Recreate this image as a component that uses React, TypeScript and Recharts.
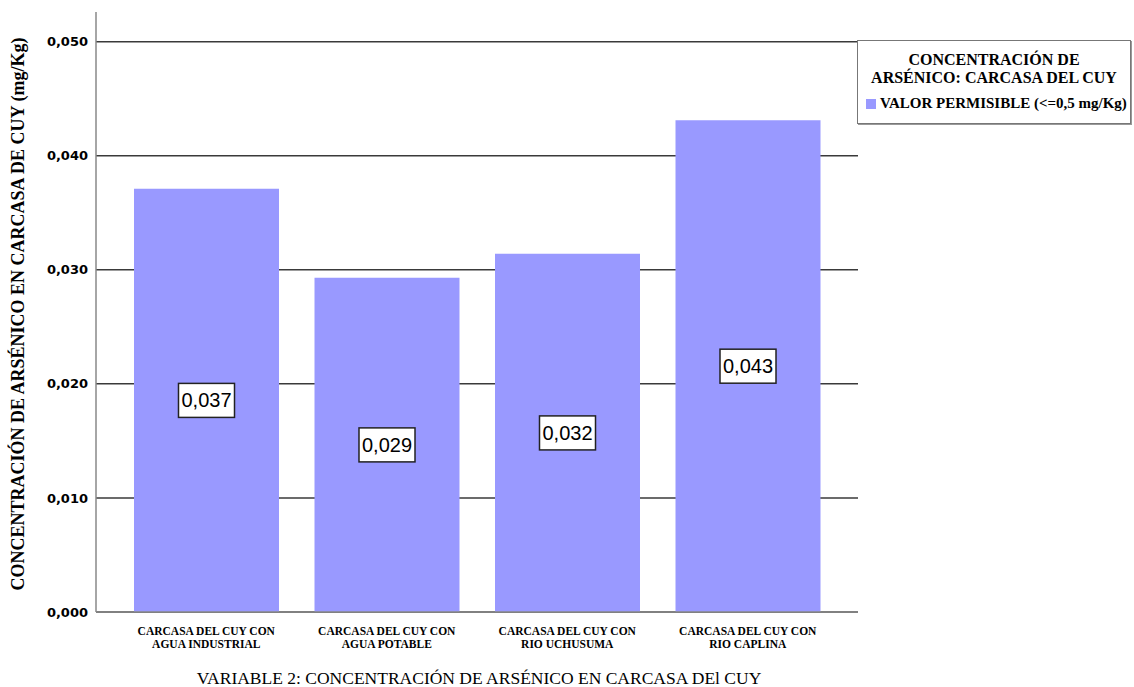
import { BarChart, Bar, XAxis, YAxis, CartesianGrid, Legend, LabelList, Label } from 'recharts'

const categories = [
  'CARCASA DEL CUY CON\nAGUA INDUSTRIAL',
  'CARCASA DEL CUY CON\nAGUA POTABLE',
  'CARCASA DEL CUY CON\nRIO UCHUSUMA',
  'CARCASA DEL CUY CON\nRIO CAPLINA',
]
const values = [0.0371, 0.0293, 0.0314, 0.0431]
const valueLabels = ['0,037', '0,029', '0,032', '0,043']
const yTicks = [0, 0.01, 0.02, 0.03, 0.04, 0.05]
const yMax = 0.0526

const seriesName = 'VALOR PERMISIBLE (<=0,5 mg/Kg)'
const legendTitle = ['CONCENTRACIÓN DE', 'ARSÉNICO: CARCASA DEL CUY']
const yTitle = 'CONCENTRACIÓN DE ARSÉNICO EN CARCASA DE CUY (mg/Kg)'
const xTitle = 'VARIABLE 2: CONCENTRACIÓN DE ARSÉNICO EN CARCASA DEl CUY'

const data = categories.map((name, i) => ({ name, value: values[i], label: valueLabels[i] }))

const serif = '"Liberation Serif", "Times New Roman", serif'
const barColor = '#9999ff'

function CategoryTick(props: any) {
  const { x, y, payload } = props
  const lines = String(payload.value).split('\n')
  return (
    <text x={x} y={y} textAnchor="middle" fontFamily={serif} fontWeight="bold" fontSize={11.5} fill="#000">
      {lines.map((l, i) => (
        <tspan key={i} x={x} dy={i === 0 ? 15 : 12.5}>{l}</tspan>
      ))}
    </text>
  )
}

function ValueBox(props: any) {
  const { x, y, width, height, value } = props
  const cx = x + width / 2
  const cy = y + height / 2
  return (
    <g>
      <rect x={cx - 28} y={cy - 17} width={56} height={34} fill="#fff" stroke="#222" strokeWidth={1.5} />
      <text x={cx} y={cy + 7} textAnchor="middle" fontFamily='"Liberation Sans", Arial, sans-serif' fontSize={20} fill="#000">
        {value}
      </text>
    </g>
  )
}

function LegendBox(props: any) {
  const item = props.payload && props.payload[0]
  return (
    <div style={{ border: '1px solid #777', boxShadow: '1px 1px 0 #999', background: '#fff', height: 84, boxSizing: 'border-box', fontFamily: serif, fontWeight: 'bold', color: '#000' }}>
      <div style={{ textAlign: 'center', fontSize: 16, lineHeight: '18px', paddingTop: 10 }}>
        {legendTitle.map((t) => <div key={t}>{t}</div>)}
      </div>
      <div style={{ display: 'flex', alignItems: 'center', marginTop: 8, paddingLeft: 8, fontSize: 15, whiteSpace: 'nowrap' }}>
        <span style={{ display: 'inline-block', width: 10, height: 10, background: item ? item.color : barColor, marginRight: 4 }} />
        {item ? item.value : seriesName}
      </div>
    </div>
  )
}

// grid lines only at the listed ticks (no line at the top of the domain)
const gridLines = (p: any) => {
  const s = p.yAxis && p.yAxis.scale
  if (typeof s === 'function') return yTicks.map((v) => s(v))
  if (s && typeof s.map === 'function') return yTicks.map((v) => s.map(v))
  const o = p.offset
  return yTicks.map((v) => o.top + o.height * (1 - v / yMax))
}

export default function App() {
  return (
    <div style={{ position: 'absolute', left: 0, top: 0, background: '#fff' }}>
      <BarChart width={1134} height={687} data={data} margin={{ top: 12, right: 276, bottom: 0, left: 0 }}>
        <CartesianGrid vertical={false} horizontalCoordinatesGenerator={gridLines} stroke="#3a3a3a" strokeWidth={1.5} />
        <XAxis
          dataKey="name"
          height={75}
          interval={0}
          padding={{ left: 20, right: 20 }}
          tickLine={false}
          axisLine={{ stroke: '#888', strokeWidth: 1.5 }}
          tick={<CategoryTick />}
        >
          <Label
            content={(p: any) => {
              const vb = p.viewBox
              return (
                <text x={vb.x + vb.width / 2 + 2} y={684} textAnchor="middle" fontFamily={serif} fontSize={17.5} fill="#000">
                  {xTitle}
                </text>
              )
            }}
          />
        </XAxis>
        <YAxis
          width={96}
          domain={[0, yMax]}
          ticks={yTicks}
          tickSize={0}
          tickMargin={8}
          axisLine={{ stroke: '#888', strokeWidth: 1.5 }}
          tickFormatter={(v: number) => v.toFixed(3).replace('.', ',')}
          tick={{ fontFamily: '"DejaVu Sans", sans-serif', fontWeight: 'bold', fontSize: 13, fill: '#000' }}
        >
          <Label
            content={(p: any) => {
              const vb = p.viewBox
              const cy = vb.y + vb.height / 2 + 2
              return (
                <text x={24} y={cy} transform={`rotate(-90 24 ${cy})`} textAnchor="middle" fontFamily={serif} fontWeight="bold" fontSize={18} fill="#000">
                  {yTitle}
                </text>
              )
            }}
          />
        </YAxis>
        <Legend
          layout="vertical"
          align="center"
          verticalAlign="middle"
          wrapperStyle={{ left: 857, top: 40, width: 274, height: 84 }}
          content={<LegendBox />}
        />
        <Bar dataKey="value" name={seriesName} fill={barColor} barSize={145} isAnimationActive={false}>
          <LabelList dataKey="label" content={<ValueBox />} />
        </Bar>
      </BarChart>
    </div>
  )
}
